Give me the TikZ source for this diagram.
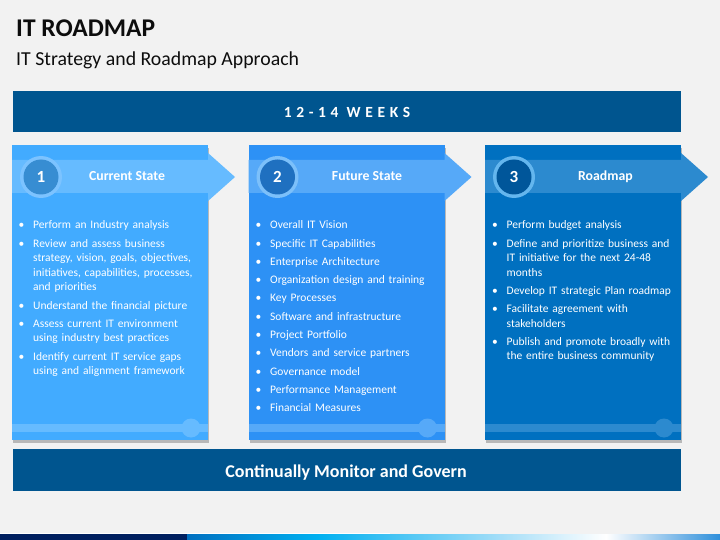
\documentclass[tikz,border=0pt]{standalone}
\usepackage{fontspec}
\setmainfont{Carlito}
\usepackage{xcolor}
\usepackage{tikz}
\usetikzlibrary{positioning}

\definecolor{pagebg}{HTML}{F2F2F2}
\definecolor{titleink}{HTML}{0D0D0D}
\definecolor{bandblue}{HTML}{00558F}
\definecolor{boxA}{HTML}{42ABFF}
\definecolor{headA}{HTML}{66BBFF}
\definecolor{ringA}{HTML}{7CC3FF}
\definecolor{numA}{HTML}{378DD2}
\definecolor{boxB}{HTML}{2D91F5}
\definecolor{headB}{HTML}{56A9F8}
\definecolor{ringB}{HTML}{7CC0FA}
\definecolor{numB}{HTML}{1F70C0}
\definecolor{boxC}{HTML}{0070C0}
\definecolor{headC}{HTML}{2C8ACF}
\definecolor{ringC}{HTML}{64B6EE}
\definecolor{numC}{HTML}{00569A}
\definecolor{stripnavy}{HTML}{00205F}
\definecolor{stripblue}{HTML}{0070C0}
\definecolor{stripcyan}{HTML}{00B0F0}
\definecolor{stripsky}{HTML}{A8DFF8}
\definecolor{stripend}{HTML}{2E8FDB}

\newcommand{\itm}[1]{\hangindent=14.5pt\hangafter=1\makebox[14.5pt][l]{\textbullet}#1\par\vspace{3.8pt}}

\begin{document}
\begin{tikzpicture}[x=1pt,y=-1pt,
  every node/.style={inner sep=0pt},
  heading/.style={anchor=base,text=white,font=\bfseries\fontsize{13.8}{16}\selectfont},
  number/.style={text=white,font=\bfseries\fontsize{17}{20}\selectfont},
  bullets/.style={anchor=base west,text width=190pt,text=white,font=\fontsize{11.5}{14.5}\selectfont},
  barlabel/.style={text=white,font=\bfseries\fontsize{18}{21}\selectfont}]
\useasboundingbox (0,0) rectangle (720,540);
\fill[pagebg] (0,0) rectangle (720,540);

\node[anchor=base west,text=titleink,font=\bfseries\fontsize{25.5}{28}\selectfont] (title) at (16,37) {IT ROADMAP};
\node[anchor=base west,text=titleink,font=\fontsize{19.8}{22}\selectfont] (subtitle) at (16,65.5) {IT Strategy and Roadmap Approach};

\fill[bandblue] (13,91) rectangle (681,132);
\node[text=white,font=\bfseries\fontsize{15.5}{18}\selectfont\addfontfeature{LetterSpace=30}] (weeks) at (347,112) {12-14 WEEKS};

\foreach \x/\c/\n/\h/\t in {12/A/1/127/Current State,248.5/B/2/367/Future State,485/C/3/605.5/Roadmap} {
  \fill[black!28] (\x+1,148) rectangle (\x+197,443);
  \fill[box\c] (\x,145) rectangle (\x+196,440);
  \fill[head\c] (\x,160) -- (\x+196,160) -- (\x+196,153) -- (\x+223,177) -- (\x+196,201) -- (\x+196,193) -- (\x,193) -- cycle;
  \fill[head\c] (\x,424) rectangle (\x+196,432);
  \fill[head\c] (\x+179,428) circle (9.5);
  \fill[ring\c] (\x+29,177) circle (21);
  \fill[num\c] (\x+29,177) circle (17.5);
  \node[number] (num\n) at (\x+29,177) {\n};
  \node[heading] (head\n) at (\h,181) {\t};
}

\node[bullets] (listA) at (18.5,229) {\itm{Perform an Industry analysis}\itm{Review and assess business\newline strategy, vision, goals, objectives,\newline initiatives, capabilities, processes,\newline and priorities}\itm{Understand the financial picture}\itm{Assess current IT environment\newline using industry best practices}\itm{Identify current IT service gaps\newline using and alignment framework}};
\node[bullets] (listB) at (255.5,228.7) {\itm{Overall IT Vision}\itm{Specific IT Capabilities}\itm{Enterprise Architecture}\itm{Organization design and training}\itm{Key Processes}\itm{Software and infrastructure}\itm{Project Portfolio}\itm{Vendors and service partners}\itm{Governance model}\itm{Performance Management}\itm{Financial Measures}};
\node[bullets] (listC) at (492,228.7) {\itm{Perform budget analysis}\itm{Define and prioritize business and\newline IT initiative for the next 24-48\newline months}\itm{Develop IT strategic Plan roadmap}\itm{Facilitate agreement with\newline stakeholders}\itm{Publish and promote broadly with\newline the entire business community}};

\fill[bandblue] (13,449) rectangle (681,491);
\node[barlabel,anchor=base] (monitor) at (346,477) {Continually Monitor and Govern};

\fill[white] (0,532.5) rectangle (390,533.5);
\fill[stripnavy] (0,534) rectangle (187,540);
\shade[left color=stripblue,right color=stripcyan] (187,534) rectangle (317,540);
\shade[left color=stripcyan,right color=stripsky] (317,534) rectangle (505,540);
\shade[left color=stripsky,right color=white] (505,534) rectangle (606,540);
\shade[left color=white,right color=stripend] (606,534) rectangle (720,540);
\end{tikzpicture}
\end{document}
